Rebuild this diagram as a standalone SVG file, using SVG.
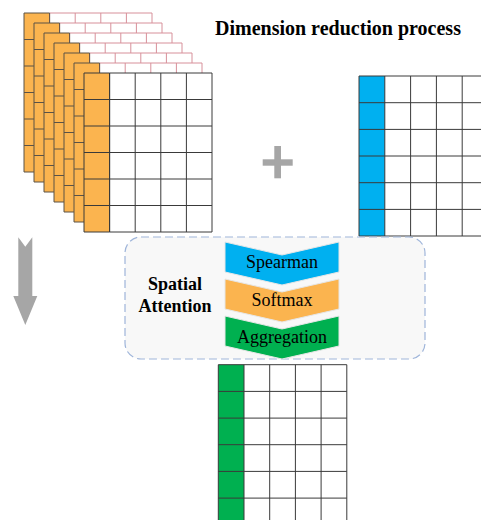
<svg xmlns="http://www.w3.org/2000/svg" xmlns:xlink="http://www.w3.org/1999/xlink" width="481" height="520" viewBox="0 0 481 520">
<style>
text{font-family:"Liberation Serif","Times New Roman",serif;fill:#000}
.bold{font-weight:bold}
.lbl{font-size:18px;text-anchor:middle}
.white{fill:#fff}
.orange{fill:#FBB44F}
.blue{fill:#00B0F0}
.green{fill:#00B050}
.gray{fill:#A6A6A6}
.back{fill:none;stroke:#D7909A;stroke-width:1}
.back-dark{fill:none;stroke:#5B5247;stroke-width:1}
.front{fill:none;stroke:#3A3A3A;stroke-width:1}
.chev{stroke:#E6E6E6;stroke-width:1}
</style>
<defs>
  <path id="lw" d="M25.6,0V159M51.2,0V159M76.8,0V159M102.4,0V159M128,0V159M25.6,0H128M25.6,26.5H128M25.6,53H128M25.6,79.5H128M25.6,106H128M25.6,132.5H128M25.6,159H128"/>
  <path id="lo" d="M0,0H25.6V159H0ZM0,26.5H25.6M0,53H25.6M0,79.5H25.6M0,106H25.6M0,132.5H25.6"/>
  <g id="layer-back">
    <rect x="0" y="0" width="128" height="159" class="white"/>
    <rect x="0" y="0" width="25.6" height="159" class="orange"/>
    <use xlink:href="#lw" class="back"/>
    <use xlink:href="#lo" class="back-dark"/>
  </g>
</defs>

<g id="title">
  <text x="215" y="35" class="bold" font-size="20" font-family="Liberation Serif, serif">Dimension reduction process</text>
</g>

<g id="feature-stack">
  <use xlink:href="#layer-back" transform="translate(24,13)"/>
  <use xlink:href="#layer-back" transform="translate(34,23)"/>
  <use xlink:href="#layer-back" transform="translate(44,33)"/>
  <use xlink:href="#layer-back" transform="translate(54,43)"/>
  <use xlink:href="#layer-back" transform="translate(64,53)"/>
  <use xlink:href="#layer-back" transform="translate(74,63)"/>
  <g transform="translate(84,73)">
    <rect x="0" y="0" width="128" height="159" class="white"/>
    <rect x="0" y="0" width="25.6" height="159" class="orange"/>
    <use xlink:href="#lw" class="front"/>
    <use xlink:href="#lo" class="front"/>
  </g>
</g>

<g id="plus">
  <rect x="262.7" y="159.3" width="30" height="6.4" class="gray"/>
  <rect x="274.3" y="146" width="6.7" height="32.3" class="gray"/>
</g>

<g id="blue-grid" transform="translate(359,76)">
  <rect x="0" y="0" width="130" height="160" class="white"/>
  <rect x="0" y="0" width="25.8" height="160" class="blue"/>
  <path class="front" d="M0,0V160M25.8,0V160M51.6,0V160M77.4,0V160M103.2,0V160M0,0H130M0,26.7H130M0,53.4H130M0,80H130M0,106.7H130M0,133.4H130M0,160H130"/>
</g>

<g id="attention-box">
  <rect x="125" y="237" width="300" height="122" rx="16" ry="16" fill="#F8F8F8" stroke="#9FB5DA" stroke-width="1.2" stroke-dasharray="8,4"/>
  <text x="175" y="290" class="bold lbl" font-family="Liberation Serif, serif">Spatial</text>
  <text x="175" y="312" class="bold lbl" font-family="Liberation Serif, serif">Attention</text>
</g>

<g id="spearman">
  <polygon points="225,242 282,255 339,242 339,272 282,285 225,272" class="blue chev"/>
  <text x="282" y="268" class="lbl" font-family="Liberation Serif, serif">Spearman</text>
</g>
<g id="softmax">
  <polygon points="225,279 282,292 339,279 339,309 282,322 225,309" class="orange chev"/>
  <text x="282" y="306" class="lbl" font-family="Liberation Serif, serif">Softmax</text>
</g>
<g id="aggregation">
  <polygon points="225,316 282,329 339,316 339,346 282,359 225,346" class="green chev"/>
  <text x="282" y="343" class="lbl" font-family="Liberation Serif, serif">Aggregation</text>
</g>

<g id="green-grid" transform="translate(218.3,364.7)">
  <rect x="0" y="0" width="128.5" height="160" class="white"/>
  <rect x="0" y="0" width="25.7" height="160" class="green"/>
  <path class="front" d="M0,0V160M25.7,0V160M51.4,0V160M77.1,0V160M102.8,0V160M128.5,0V160M0,0H128.5M0,26.7H128.5M0,53.4H128.5M0,80H128.5M0,106.7H128.5M0,133.4H128.5"/>
</g>

<g id="connectors">
  <polygon points="18.3,237.3 25.3,246.7 32.3,237.3 32.3,296 37.3,296 25.3,325 13.3,296 18.3,296" class="gray"/>
</g>
</svg>
